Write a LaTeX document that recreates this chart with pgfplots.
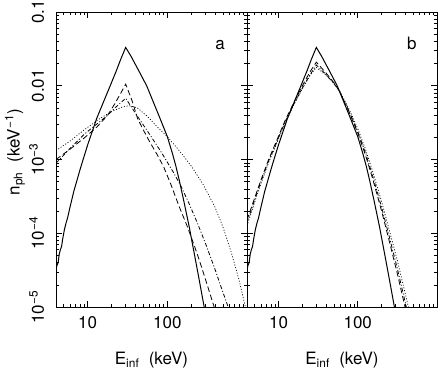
\documentclass[border=0pt]{standalone}
\usepackage{fontspec}
\setmainfont{TeX Gyre Heros}
\usepackage{pgfplots}
\usepackage{pgfplotstable}
\pgfplotsset{compat=1.18}

\pgfplotsset{
  spec/.style={
    scale only axis, height=295pt,
    xmin=4, xmax=1000, ymin=1e-5, ymax=0.1,
    xtick={10,100}, xticklabels={10,100},
    minor xtick={4,5,6,7,8,9,20,30,40,50,60,70,80,90,200,300,400,500,600,700,800,900},
    ytick={1e-5,1e-4,1e-3,1e-2,1e-1},
    minor ytick={2e-5,3e-5,4e-5,5e-5,6e-5,7e-5,8e-5,9e-5,
                 2e-4,3e-4,4e-4,5e-4,6e-4,7e-4,8e-4,9e-4,
                 2e-3,3e-3,4e-3,5e-3,6e-3,7e-3,8e-3,9e-3,
                 2e-2,3e-2,4e-2,5e-2,6e-2,7e-2,8e-2,9e-2},
    tick align=inside,
    major tick length=6pt, minor tick length=3.5pt,
    every tick/.style={black, line width=0.6pt},
    axis line style={line width=0.8pt},
    xticklabel shift=4pt,
    xlabel={E\textsubscript{inf}\ \ (keV)},
    xlabel style={at={(axis description cs:0.5,-0.18)}, anchor=center},
    /pgf/number format/assume math mode=true,
  },
  solid line/.style={black, line width=1pt},
  dashed line/.style={black, line width=0.8pt, dash pattern=on 5.5pt off 3pt},
  dashdot line/.style={black, line width=0.8pt, dash pattern=on 4pt off 2pt on 1pt off 2pt},
  dotted line/.style={black, line width=0.7pt, dash pattern=on 1pt off 1.8pt},
}

\pgfplotstableread{
E     n
4.0   3.16e-5
4.1   3.63e-5
4.25  3.98e-5
4.4   5.25e-5
4.55  6.03e-5
4.7   6.61e-5
4.85  8.32e-5
5.1   1.12e-4
5.35  1.38e-4
5.6   1.62e-4
5.9   2.09e-4
6.3   2.82e-4
6.7   3.72e-4
7.3   5.13e-4
8.0   7.24e-4
8.7   9.77e-4
10    1.585e-3
11    2.14e-3
13    3.63e-3
15.5  5.75e-3
19    9.77e-3
22.8  1.58e-2
26    2.29e-2
30    3.31e-2
35    2.51e-2
45    1.51e-2
55    1.00e-2
65.5  6.31e-3
80    3.72e-3
100   2.04e-3
116   1.20e-3
128   8.13e-4
141   5.25e-4
160   2.82e-4
188   1.23e-4
220   5.01e-5
250   2.40e-5
290   1.00e-5
310   6.3e-6
}\solidtab

\pgfplotstableread{
E     n
4     1.00e-3
6     1.38e-3
9     1.95e-3
13    2.75e-3
17.8  3.98e-3
22    5.75e-3
26    7.94e-3
30    1.05e-2
36    6.31e-3
42.5  3.55e-3
50    2.51e-3
60    1.74e-3
75    1.15e-3
90    7.94e-4
110   4.68e-4
141   2.29e-4
180   1.20e-4
220   6.61e-5
251   4.37e-5
300   2.40e-5
387   1.00e-5
420   7.6e-6
}\adashed

\pgfplotstableread{
E     n
4     8.91e-4
6     1.41e-3
9     2.19e-3
13    3.02e-3
17.8  3.98e-3
22    5.01e-3
26    5.89e-3
30    6.76e-3
42.5  3.80e-3
60    2.19e-3
85    1.23e-3
120   6.61e-4
148   4.37e-4
188   2.51e-4
240   1.35e-4
304   7.08e-5
400   3.16e-5
480   1.78e-5
580   1.00e-5
620   7.9e-6
}\adashdot

\pgfplotstableread{
E     n
4     1.32e-3
6     1.78e-3
9     2.51e-3
14    3.55e-3
20    4.47e-3
27    5.13e-3
33    5.37e-3
42    5.01e-3
56.7  3.80e-3
75    2.75e-3
100   2.04e-3
141   1.32e-3
200   8.13e-4
282   4.57e-4
398   2.24e-4
501   1.20e-4
631   5.62e-5
794   2.34e-5
955   1.00e-5
1000  8.3e-6
}\adotted

\pgfplotstableread{
E     n
4     1.51e-4
5     3.02e-4
5.9   5.01e-4
7.5   1.00e-3
9.5   1.82e-3
12    3.31e-3
15.4  5.75e-3
20    1.00e-2
25    1.55e-2
30    2.09e-2
40    1.48e-2
50    1.10e-2
58.5  8.51e-3
78    4.37e-3
100   2.29e-3
126   1.12e-3
154   5.50e-4
200   2.00e-4
249   7.94e-5
316   2.82e-5
395   1.00e-5
430   6.3e-6
}\bdashed

\pgfplotstableread{
E     n
4     1.41e-4
5     2.82e-4
5.9   4.79e-4
7.5   9.55e-4
9.5   1.74e-3
12    3.16e-3
15.4  5.50e-3
20    9.33e-3
25    1.41e-2
30    1.91e-2
40    1.41e-2
50    1.07e-2
58.5  8.51e-3
78    4.47e-3
100   2.40e-3
126   1.20e-3
154   6.03e-4
200   2.24e-4
249   9.12e-5
316   3.31e-5
410   1.00e-5
450   6.3e-6
}\bdashdot

\pgfplotstableread{
E     n
4     1.26e-4
5     2.63e-4
5.9   4.47e-4
7.5   9.12e-4
9.5   1.66e-3
12    3.02e-3
15.4  5.37e-3
20    9.12e-3
25    1.38e-2
30    1.78e-2
40    1.38e-2
50    1.07e-2
58.5  8.71e-3
78    4.79e-3
100   2.63e-3
126   1.35e-3
154   6.92e-4
200   2.69e-4
249   1.12e-4
316   4.27e-5
436   1.00e-5
470   6.3e-6
}\bdotted

\begin{document}
\fontsize{17}{20}\selectfont
\begin{tikzpicture}
\begin{loglogaxis}[spec, name=pa, width=191pt,
    yticklabels={10\textsuperscript{−5},10\textsuperscript{−4},10\textsuperscript{−3},0.01,0.1},
    yticklabel style={rotate=90, anchor=south},
    yticklabel shift=6pt,
    ylabel={n\textsubscript{ph}\ \ (keV\textsuperscript{−1})},
    ylabel style={at={(axis description cs:-0.215,0.525)}, anchor=center},
]
\addplot[solid line] table {\solidtab};
\addplot[dashed line] table {\adashed};
\addplot[dashdot line] table {\adashdot};
\addplot[dotted line] table {\adotted};
\node at (rel axis cs:0.859,0.888) {a};
\end{loglogaxis}
\begin{loglogaxis}[spec, name=pb, width=190pt,
    at={(pa.south east)}, anchor=south west,
    yticklabels={},
]
\addplot[solid line] table {\solidtab};
\addplot[dashed line] table {\bdashed};
\addplot[dashdot line] table {\bdashdot};
\addplot[dotted line] table {\bdotted};
\node at (rel axis cs:0.867,0.895) {b};
\end{loglogaxis}
\pgfresetboundingbox
\useasboundingbox ([shift={(-56pt,-64pt)}]pa.south west) rectangle ([shift={(4pt,12pt)}]pb.north east);
\end{tikzpicture}
\end{document}
